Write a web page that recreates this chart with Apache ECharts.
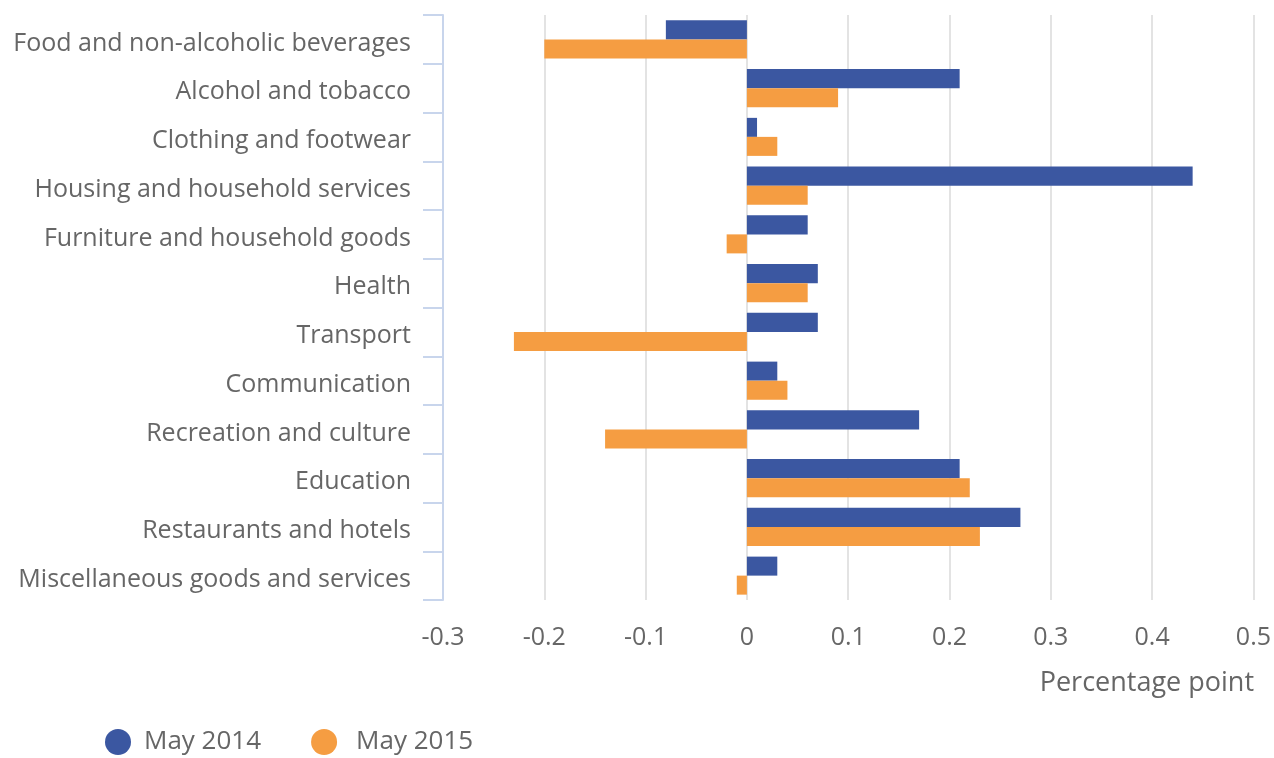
<!DOCTYPE html>
<html>
<head>
<meta charset="utf-8">
<script src="https://cdn.jsdelivr.net/npm/echarts@6/dist/echarts.min.js"></script>
<style>
  html, body { margin: 0; padding: 0; background: #fff; }
  #chart { width: 1274px; height: 758px; }
</style>
</head>
<body>
<div id="chart"></div>
<script>
const categories = [
    'Food and non-alcoholic beverages',
    'Alcohol and tobacco',
    'Clothing and footwear',
    'Housing and household services',
    'Furniture and household goods',
    'Health',
    'Transport',
    'Communication',
    'Recreation and culture',
    'Education',
    'Restaurants and hotels',
    'Miscellaneous goods and services'
];
const may2014 = [-0.08, 0.21, 0.01, 0.44, 0.06, 0.07, 0.07, 0.03, 0.17, 0.21, 0.27, 0.03];
const may2015 = [-0.20, 0.09, 0.03, 0.06, -0.02, 0.06, -0.23, 0.04, -0.14, 0.22, 0.23, -0.01];
const seriesNames = ['May 2014', 'May 2015'];

const textColor = '#666666';
const font = '"Open Sans", "Noto Sans", sans-serif';

const myChart = echarts.init(document.getElementById('chart'));
const option = {
    backgroundColor: '#ffffff',
    textStyle: { fontFamily: font },
    color: ['#3b57a1', '#f59d42'],
    title: {
        text: 'Percentage point',
        right: 15,
        top: 665,
        textStyle: { color: textColor, fontSize: 27, fontWeight: 'normal', fontFamily: font }
    },
    legend: {
        left: 100,
        top: 724,
        icon: 'circle',
        itemWidth: 26,
        itemHeight: 26,
        itemGap: 50,
        textStyle: { color: textColor, fontSize: 26, fontFamily: font, padding: [0, 0, 0, 8] },
        data: [
            { name: seriesNames[0] },
            { name: seriesNames[1], textStyle: { padding: [0, 0, 0, 14] } }
        ]
    },
    grid: { left: 443, right: 18, top: 15, bottom: 158, containLabel: false },
    xAxis: {
        type: 'value',
        min: -0.3,
        max: 0.5,
        interval: 0.1,
        axisLine: { show: false },
        axisTick: { show: false },
        splitLine: { show: true, lineStyle: { color: '#e3e3e3', width: 2 } },
        axisLabel: {
            color: textColor,
            fontSize: 25,
            margin: 25,
            formatter: v => String(Math.round(v * 10) / 10)
        }
    },
    yAxis: {
        type: 'category',
        inverse: true,
        data: categories,
        axisLine: { show: true, onZero: false, lineStyle: { color: '#c8d5ec', width: 2 } },
        axisTick: { show: true, length: 20, lineStyle: { color: '#c8d5ec', width: 2 } },
        // nudge the labels a few px below the band centre, as in the original
        axisLabel: { color: textColor, fontSize: 25, margin: 32, verticalAlign: 'top', lineHeight: 8 }
    },
    series: [
        {
            name: seriesNames[0],
            type: 'bar',
            data: may2014,
            barGap: '0%',
            barCategoryGap: '22%'
        },
        {
            name: seriesNames[1],
            type: 'bar',
            data: may2015,
            barGap: '0%',
            barCategoryGap: '22%'
        }
    ]
};
myChart.setOption(option);
</script>
</body>
</html>
